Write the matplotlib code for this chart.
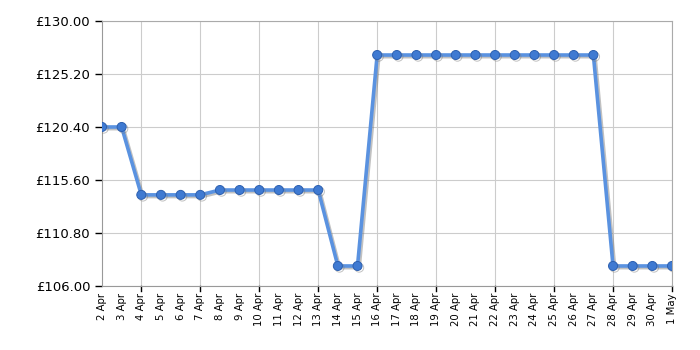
import matplotlib
matplotlib.use("Agg")
import matplotlib.pyplot as plt
import matplotlib.patheffects as pe
import numpy as np

# daily labels from 2 Apr to 1 May
days = [f"{d} Apr" for d in range(2, 31)] + ["1 May"]
prices = ([120.40, 120.40] + [114.25] * 4 + [114.69] * 6 + [107.81] * 2
          + [126.92] * 12 + [107.81] * 4)
yticks = [106.00, 110.80, 115.60, 120.40, 125.20, 130.00]

x = np.arange(len(days))

fig = plt.figure(figsize=(7, 3.5), dpi=100)
ax = fig.add_axes([0.1457, 0.183, 0.8143, 0.757])

shadow = [pe.SimpleLineShadow(offset=(1.2, -1.2), shadow_color="#777777", alpha=0.45),
          pe.Normal()]
ax.plot(x, prices, color="#5a92e0", lw=2.6, zorder=3, path_effects=shadow)
ax.plot(x, prices, ls="none", marker="o", ms=6.5, mfc="#3f7ad2",
        mec="#2d60b0", mew=0.7, zorder=4, path_effects=shadow)

ax.set_xlim(0, len(days) - 1)
ax.set_ylim(106, 130)
ax.set_yticks(yticks)
ax.set_yticklabels([f"£{v:.2f}" for v in yticks], fontsize=9.5)

ax.set_xticks(x)
ax.set_xticklabels(days, rotation=90, fontsize=7.3)
ax.tick_params(axis="x", length=0, pad=5)
ax.tick_params(axis="y", length=5, width=1, color="black")

# grid every 3 days, starting at 4 Apr
gx = [i for i in x if (i - 2) % 3 == 0]
for g in gx:
    ax.axvline(g, color="#cccccc", lw=0.8, zorder=0)
    ax.plot([g, g], [0, -0.02], transform=ax.get_xaxis_transform(),
            color="black", lw=1, clip_on=False)
for v in yticks:
    ax.axhline(v, color="#cccccc", lw=0.8, zorder=0)

for s in ax.spines.values():
    s.set_color("#aaaaaa")
ax.spines["left"].set_color("#999999")
ax.spines["bottom"].set_color("#999999")

fig.savefig("out.png", dpi=100)
